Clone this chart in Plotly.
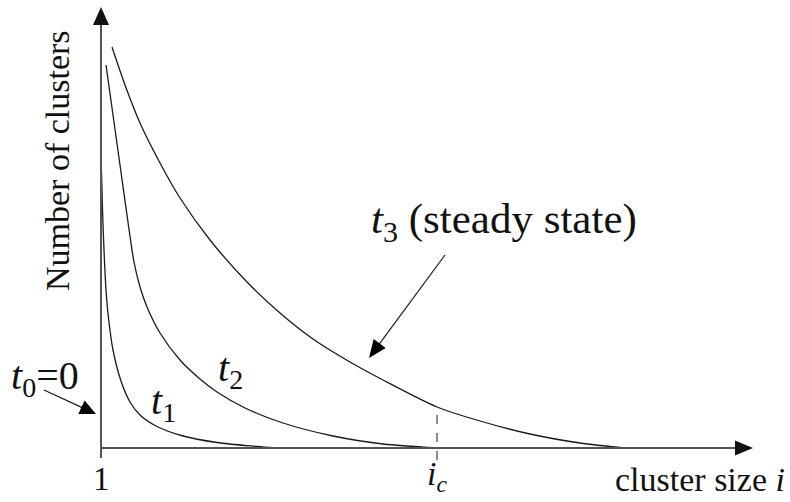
import numpy as np
import plotly.graph_objects as go

# ---- data (x: cluster size in chart units, i=1 at 0; y: number of clusters) ----
t1_x = [0.5, 1.5, 3, 5, 7.5, 12, 20, 29, 39, 55, 82, 116, 156, 174]
t1_y = [276, 238, 198, 158, 130, 98, 67, 46, 33, 22, 12, 5.5, 1.5, 0]

t2_x = [5, 12, 19, 26, 33, 39, 46, 59, 79, 99, 116, 144, 182, 232, 282, 336]
t2_y = [383, 333, 283, 233, 186, 161, 141, 115, 88, 69, 56, 40, 25, 12, 4, 0]

t3_x = [11, 24, 39, 59, 79, 109, 146, 179, 212, 249, 282, 336, 379, 429, 479, 524]
t3_y = [401, 363, 325, 285, 250, 208, 166, 135, 109, 86, 68, 41, 27, 14, 5, 0]

ic_x = 336
ic_y = 41

FONT = "Liberation Serif, Times New Roman, Times, serif"
CURVE = "#1a1a1a"
AXIS = "#555555"

fig = go.Figure()
for xs, ys, nm in [(t1_x, t1_y, "t1"), (t2_x, t2_y, "t2"), (t3_x, t3_y, "t3")]:
    fig.add_trace(go.Scatter(x=xs, y=ys, mode="lines", name=nm,
                             line=dict(color=CURVE, width=1.3, shape="spline", smoothing=0.8),
                             hoverinfo="skip", showlegend=False))

shapes = []
# axes
shapes.append(dict(type="line", x0=0, y0=-10, x1=0, y1=425, line=dict(color=AXIS, width=2)))
shapes.append(dict(type="line", x0=0, y0=0, x1=636, y1=0, line=dict(color=AXIS, width=2)))
# i_c dashed line
shapes.append(dict(type="line", x0=ic_x, y0=-12, x1=ic_x, y1=ic_y,
                   line=dict(color=CURVE, width=1, dash="dash")))


def tri(tip, frm, length, width):
    tip = np.array(tip, float)
    frm = np.array(frm, float)
    d = tip - frm
    d = d / np.linalg.norm(d)
    n = np.array([-d[1], d[0]])
    base = tip - d * length
    a = base + n * width / 2
    b = base - n * width / 2
    return f"M {tip[0]},{tip[1]} L {a[0]},{a[1]} L {b[0]},{b[1]} Z"


def pointer(start, tip, length=17, width=15):
    tip_a = np.array(tip, float)
    st = np.array(start, float)
    d = (tip_a - st) / np.linalg.norm(tip_a - st)
    end = tip_a - d * (length * 0.8)
    shapes.append(dict(type="line", x0=st[0], y0=st[1], x1=end[0], y1=end[1],
                       line=dict(color=CURVE, width=1.2)))
    shapes.append(dict(type="path", path=tri(tip, start, length, width),
                       fillcolor="black", line=dict(color="black", width=0)))


# axis arrowheads
shapes.append(dict(type="path", path=tri((0, 441), (0, 0), 18, 16),
                   fillcolor="#111", line=dict(width=0)))
shapes.append(dict(type="path", path=tri((652, 0), (0, 0), 18, 15),
                   fillcolor="#111", line=dict(width=0)))
# pointers
pointer((344, 193), (268, 90), 18, 15)
pointer((-57, 58), (-5, 34), 16, 15)

fig.update_layout(shapes=shapes)

ann = []


def txt(x, y, s, size, angle=0, xanchor="center"):
    ann.append(dict(x=x, y=y, xref="x", yref="y", text=s, showarrow=False,
                    font=dict(family=FONT, size=size, color="#111"), textangle=angle,
                    xanchor=xanchor, yanchor="middle"))


txt(-44, 287, "Number of clusters", 34, -90)
txt(0, -31, "1", 33)
txt(ic_x, -28, "<i>i</i><sub><i>c</i></sub>", 34)
txt(686, -31, "cluster size <i>i</i>", 34, xanchor="right")
txt(-56, 70, "<i>t</i><sub>0</sub>=0", 40)
txt(62, 45, "<i>t</i><sub>1</sub>", 40)
txt(129, 78, "<i>t</i><sub>2</sub>", 40)
txt(403, 226, "<i>t</i><sub>3</sub> (steady state)", 43)

fig.update_layout(
    annotations=ann,
    width=790, height=502, autosize=False,
    margin=dict(l=0, r=0, t=0, b=0),
    paper_bgcolor="white", plot_bgcolor="white",
    xaxis=dict(range=[-101, 689], visible=False, fixedrange=True),
    yaxis=dict(range=[-54, 448], visible=False, fixedrange=True),
    showlegend=False,
)

fig.write_html("out.html", config={"displayModeBar": False, "staticPlot": True},
               post_script="document.body.style.margin='0px';")
